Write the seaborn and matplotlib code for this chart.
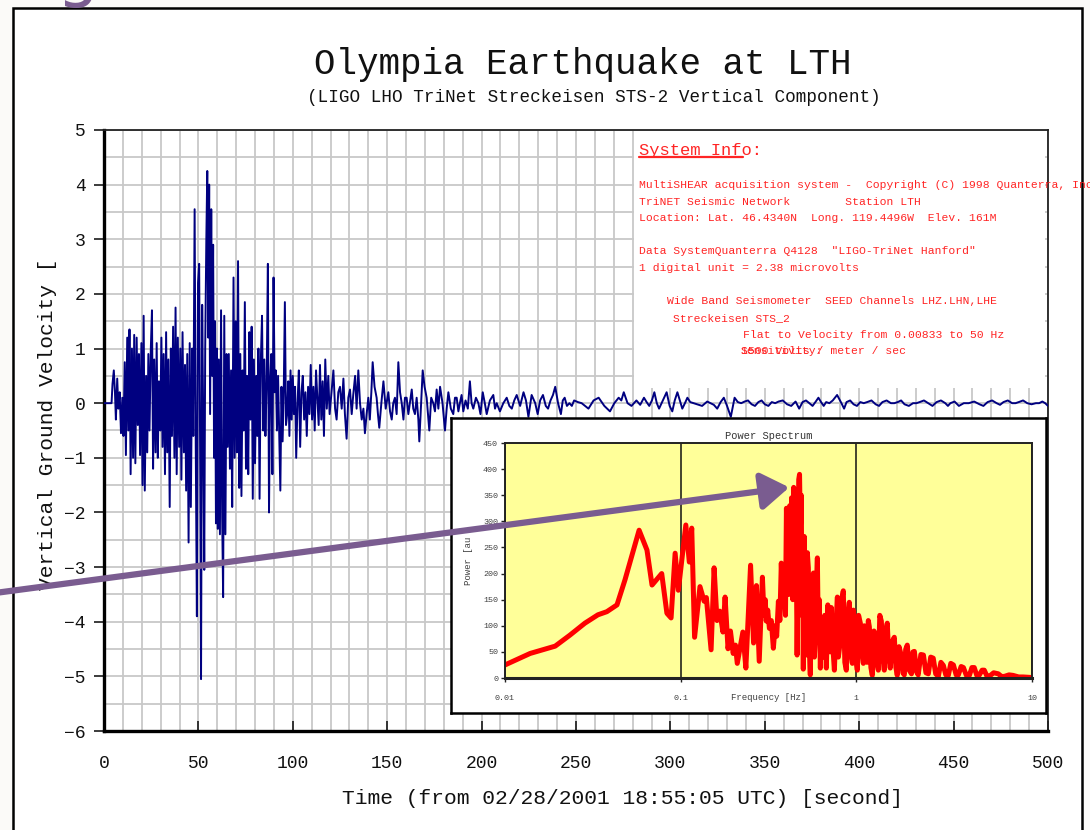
import numpy as np
import matplotlib.pyplot as plt
import matplotlib.patches as mpatches
from matplotlib.lines import Line2D
import seaborn as sns
import pandas as pd

# LTH vertical component [s], [velocity]
seis_t = [0, 4, 4.5, 5.2, 5.8, 6.3, 7, 7.6, 8.3, 9, 9.7, 10.3, 11, 11.6, 12.3, 12.9, 13.5, 14.1,
          14.8, 15.4, 16, 16.6, 17.3, 17.9, 18.5, 19.1, 19.8, 20.4, 21, 21.6, 22.3, 22.9, 23.5,
          24.1, 24.8, 25.4, 26, 26.6, 27.3, 27.9, 28.5, 29.1, 29.8, 30.4, 31, 31.6, 32.3, 32.9,
          33.5, 34.1, 34.8, 35.4, 36, 36.6, 37.3, 37.9, 38.5, 39.1, 39.8, 40.4, 41, 41.6, 42.3,
          42.9, 43.5, 44.1, 44.8, 45.4, 46, 46.7, 47.3, 48, 48.6, 49.2, 49.8, 50.4, 51, 51.4, 52,
          52.6, 53.1, 53.6, 54.2, 54.7, 55.2, 55.7, 56.2, 56.8, 57.3, 57.8, 58.3, 58.8, 59.3, 59.8,
          60.3, 60.8, 61.4, 62, 62.6, 63.1, 63.7, 64.3, 64.9, 65.5, 66.1, 66.7, 67.3, 67.9, 68.6,
          69.2, 69.8, 70.4, 71, 71.6, 72.2, 72.8, 73.4, 74, 74.6, 75.2, 75.8, 76.4, 77, 77.6, 78.2,
          78.8, 79.4, 80, 80.6, 81.2, 81.8, 82.4, 83, 83.7, 84.3, 84.9, 85.5, 86.1, 86.8, 87.4, 88,
          88.6, 89.2, 89.8, 90.4, 91, 91.6, 92.2, 92.8, 93.4, 94, 94.6, 95.2, 95.8, 96.4, 97, 97.6,
          98.2, 98.8, 99.4, 100, 100.6, 101.2, 101.8, 102.5, 103.2, 103.9, 104.6, 105.3, 106, 106.7,
          107.4, 108.1, 108.8, 109.5, 110.2, 110.9, 111.6, 112.3, 113, 113.7, 114.4, 115.1, 115.8,
          116.5, 117.2, 118, 118.8, 119.5, 121.5, 122.4, 123.2, 124.1, 125, 125.9, 126.8, 127.6,
          128.5, 129.4, 130.3, 131.2, 132, 133, 133.8, 134.7, 135.6, 136.5, 137.4, 138.2, 139.1,
          140, 140.8, 141.6, 142.3, 143.3, 144.4, 145.1, 145.8, 146.9, 148, 149.2, 150.6, 151.5,
          152.4, 153.2, 154.1, 155, 155.9, 156.8, 157.7, 158.6, 159.4, 160.3, 161.2, 162, 163,
          163.8, 164.7, 165.6, 166.5, 167, 168, 168.8, 169.8, 170.9, 171.6, 172.3, 173.3, 174.4,
          175.3, 176.2, 177.1, 178, 179.3, 180.6, 181.5, 182.4, 183.7, 185, 185.9, 186.8, 187.7,
          188.5, 189.4, 190.3, 191.5, 192.7, 193.8, 194.7, 195.6, 197, 198.3, 199.4, 200.6, 201.7,
          202.7, 204.4, 206.2, 207.1, 208, 209.7, 211.5, 213.3, 214.7, 216, 217.3, 218.6, 220.4,
          222.2, 223.5, 224.8, 226.5, 228.4, 229.7, 231, 232.5, 234, 235.2, 236.5, 237.8, 239,
          240.5, 242, 243, 244, 245.2, 246.5, 247.8, 249, 251, 253, 254.8, 256.6, 259.3, 262,
          265, 268, 270.3, 272.6, 274, 275.3, 277.3, 279.4, 280.7, 282, 284, 286, 287.4, 288.8,
          290.2, 291.5, 292.8, 294, 296, 298, 299.6, 301, 302.3, 303.7, 305, 306.3, 307.7, 309,
          310.5, 312.3, 314, 316.8, 319.5, 321.3, 323, 324.8, 326.6, 328.3, 330, 332, 334, 335.7,
          337.5, 339.3, 341.1, 343, 344.8, 346.6, 348.3, 350, 351.9, 353.7, 355.5, 357.3, 359.5,
          361.8, 364, 366.3, 368.2, 370, 371.8, 373.6, 375.3, 377, 378.4, 379.8, 381.2, 382.5,
          384.2, 386, 388.3, 390.6, 392, 393.3, 395.2, 397, 398.8, 400.6, 402.4, 404.2, 406.5,
          408.7, 410.5, 412.3, 414.5, 416.8, 418.6, 420.4, 422.2, 424, 426.3, 428.5, 430.3, 432,
          434.3, 436.6, 438.8, 441, 443.3, 445.6, 447, 448.3, 450.5, 452.8, 455.4, 458, 460.9,
          463.7, 465.8, 468, 470.4, 472.8, 474.6, 476.4, 478.7, 481, 482.8, 484.5, 486.8, 489,
          491.3, 493.6, 495.3, 497, 498.5, 500]
seis_v = [0, 0, 0.35, 0.6, 0.2, -0.3, 0.45, -0.1, 0.2, -0.55, 0.1, -0.6, 0.75, -0.95, 1.2, -0.5,
          1.35, -1.3, 1.0, -1.0, 1.25, -1.1, 1.2, -0.4, 0.9, -0.95, 1.1, -1.5, 1.6, -1.6, 0.5, -0.9,
          0.9, -0.5, 1.0, 1.7, -1.2, 0.8, -0.9, 1.1, -1.0, 0.4, -0.5, 1.2, -0.8, 0.9, -1.3, 1.3,
          -0.9, 0.8, -1.9, 1.0, -0.6, 1.4, -1.0, 1.75, -1.3, 1.2, -0.8, 1.0, -1.4, 1.3, -0.9, 0.7,
          -1.6, 0.9, -2.55, 1.1, -1.9, 1.0, -0.6, 3.55, -0.8, -3.9, 2.2, 2.55, -1.5, -5.05, 1.8,
          -0.5, -3.05, 1.0, 3.0, 4.25, 1.2, 4.0, -0.2, 3.55, 0.5, 2.9, -1.0, 1.5, -2.2, 1.0, -2.3,
          0.8, -2.4, 1.7, -2.1, -3.55, 1.6, -2.4, 0.9, -0.8, 0.9, -1.2, 0.6, -1.9, 2.3, -1.0, 1.5,
          -0.9, 2.6, -1.55, 0.9, -1.7, 0.6, -0.5, 1.85, -1.2, 0.5, -1.3, 1.3, -0.3, 1.4, -1.75,
          0.8, -1.1, 0.5, -0.6, 1.0, -1.75, 0.7, 1.6, -0.5, 0.8, -0.6, 0.3, 2.55, -2.0, 0.4, 0.9,
          -1.3, 2.3, 0.2, 0.6, -0.5, 0.5, -0.6, -1.6, 0.3, -0.7, 0.2, 1.85, -0.4, -0.2, 0.4, -0.6,
          0.6, -0.3, 0.5, -0.2, 0.3, -1.0, 0.0, 0.6, -0.8, 0.2, 0.5, -0.3, 0.2, -0.6, 0.3, -0.2,
          0.7, -0.3, 0.3, -0.5, 0.6, 0.1, -0.4, 0.7, -0.3, 0.4, -0.6, 0.8, -0.1, 0.5, -0.2, 0.6,
          -0.1, -0.3, 0.2, 0.3, -0.1, 0.45, -0.2, -0.65, 0.1, 0.25, -0.2, 0.15, 0.5, -0.1, 0.6, 0.0,
          -0.3, -0.1, -0.55, -0.2, 0.1, -0.3, 0.2, 0.75, 0.3, 0.1, -0.2, -0.45, 0.0, 0.4, -0.1, 0.2,
          -0.15, -0.3, 0.0, 0.1, -0.2, 0.75, 0.2, 0.0, -0.3, 0.1, 0.1, -0.2, 0.0, 0.25, -0.1, -0.2,
          0.1, -0.3, -0.7, 0.0, 0.6, 0.3, 0.1, -0.2, -0.5, 0.1, 0.0, -0.15, 0.25, -0.1, 0.3, 0.0,
          -0.5, -0.1, 0.2, -0.1, -0.2, 0.1, 0.1, -0.15, 0.0, 0.15, -0.15, 0.05, -0.1, 0.4, 0.0,
          -0.1, 0.1, 0.0, -0.2, 0.2, 0.0, -0.2, 0.05, 0.15, -0.1, 0.0, -0.15, 0.0, 0.1, -0.05,
          -0.1, 0.05, 0.15, -0.05, 0.2, 0.05, -0.25, 0.15, 0.0, -0.2, 0.05, 0.15, -0.05, -0.1,
          0.05, 0.15, 0.3, 0.0, -0.2, 0.05, 0.1, -0.05, 0.0, -0.05, 0.05, 0.02, 0.0, -0.05, -0.1,
          0.05, 0.1, -0.05, -0.15, 0.0, 0.1, 0.05, 0.2, 0.0, -0.05, 0.0, 0.05, -0.03, 0.1, 0.02,
          -0.05, 0.05, 0.2, 0.0, -0.1, 0.05, 0.2, -0.05, -0.15, 0.05, 0.2, 0.05, -0.1, 0.0, 0.1,
          0.02, 0.0, -0.02, -0.05, 0.03, 0.0, -0.03, -0.1, 0.02, 0.1, -0.05, -0.25, 0.1, 0.02, 0.0,
          0.03, 0.05, -0.02, -0.05, 0.02, 0.05, -0.02, -0.05, 0.02, 0.0, 0.03, 0.05, -0.02, -0.05,
          0.03, -0.1, 0.02, 0.05, 0.0, -0.05, 0.03, 0.1, 0.02, -0.05, 0.02, 0.0, 0.05, 0.15, 0.0,
          -0.1, 0.02, 0.05, -0.02, -0.05, 0.02, 0.0, 0.02, 0.05, -0.02, -0.05, 0.02, 0.05, 0.0,
          0.0, 0.02, 0.05, -0.02, -0.05, 0.0, 0.0, 0.02, 0.05, 0.0, -0.05, 0.02, 0.05, 0.0, -0.05,
          0.0, 0.03, -0.05, 0.0, 0.0, 0.03, -0.02, -0.05, 0.02, 0.05, 0.0, -0.03, 0.02, 0.05, 0.0,
          0.0, 0.02, 0.05, 0.0, -0.02, 0.0, 0.0, 0.03, 0.0, -0.05]

# power spectrum of the same record
freq_hz = [0.01, 0.0139, 0.0193, 0.0234, 0.0285, 0.0338, 0.038, 0.0434, 0.0482, 0.058, 0.0643,
           0.0687, 0.078, 0.0835, 0.0882, 0.093, 0.097, 0.107, 0.112, 0.1156, 0.12, 0.1288, 0.136,
           0.14, 0.149, 0.155, 0.161, 0.167, 0.174, 0.179, 0.186, 0.192, 0.199, 0.205, 0.21, 0.226,
           0.235, 0.25, 0.26, 0.27, 0.28,
           0.292, 0.298, 0.303, 0.307, 0.313, 0.32, 0.328, 0.337, 0.345, 0.352, 0.36, 0.367,
           0.374, 0.381, 0.389, 0.395, 0.40, 0.405, 0.41, 0.413, 0.418, 0.423, 0.428, 0.435,
           0.44, 0.447, 0.452, 0.46, 0.466, 0.47, 0.475, 0.48, 0.486, 0.49, 0.495, 0.499, 0.505,
           0.512, 0.519, 0.526, 0.533, 0.54, 0.547, 0.553, 0.56, 0.57, 0.577, 0.584, 0.59, 0.60,
           0.607, 0.615, 0.624, 0.632, 0.641, 0.65, 0.66, 0.675, 0.688, 0.702, 0.71, 0.72, 0.735,
           0.75, 0.765, 0.78, 0.79, 0.81, 0.825, 0.843, 0.86, 0.877, 0.895, 0.912, 0.93, 0.949,
           0.962, 0.974, 0.99, 1.013, 1.03, 1.054, 1.075, 1.096, 1.11, 1.125, 1.15, 1.17, 1.186,
           1.21, 1.233, 1.26, 1.283, 1.31, 1.334, 1.36, 1.388, 1.415, 1.443, 1.47, 1.5, 1.53,
           1.56, 1.6, 1.645, 1.68, 1.71, 1.75, 1.8, 1.84, 1.875, 1.91, 1.95, 2.0, 2.06, 2.1, 2.14,
           2.2, 2.25, 2.33, 2.41, 2.49, 2.57, 2.65, 2.74, 2.83, 2.93, 3.03, 3.13, 3.23, 3.34,
           3.45, 3.57, 3.7, 3.81, 3.95, 4.07, 4.23, 4.4, 4.55, 4.69, 4.85, 5.0, 5.2, 5.35, 5.55,
           5.7, 6.05, 6.43, 6.7, 6.95, 7.4, 7.8, 8.4, 8.9, 9.9]
power_au = [25, 47, 61, 82, 105, 121, 127, 140, 188, 283, 245, 178, 200, 124, 115, 239, 168, 293,
            222, 287, 78, 175, 147, 154, 54, 211, 110, 128, 88, 155, 56, 90, 47, 63, 28, 88, 19,
            216, 67, 177, 32,
            193, 120, 150, 109, 130, 95, 110, 57, 100, 80, 147, 110, 220, 140, 167, 120, 325,
            200, 310, 160, 330, 230, 345, 150, 365, 250, 360, 44, 200, 380, 390, 280, 350, 120,
            270, 17, 271, 150, 44, 240, 211, 60, 6, 180, 100, 201, 40, 78, 160, 230, 90, 150, 19,
            110, 83, 40, 120, 19, 140, 89, 50, 135, 60, 15, 100, 155, 40, 70, 150, 167, 30, 15,
            120, 145, 50, 28, 130, 105, 40, 15, 120, 105, 50, 28, 100, 85, 30, 110, 98, 20, 5, 90,
            85, 30, 15, 120, 109, 40, 15, 90, 105, 40, 19, 70, 78, 20, 5, 60, 44, 10, 6, 55, 63,
            15, 8, 50, 51, 12, 6, 45, 44, 10, 8, 40, 38, 8, 3, 30, 24, 6, 5, 28, 25, 6, 6, 22, 20,
            5, 5, 20, 20, 5, 5, 15, 15, 3, 3, 10, 8, 3, 3, 6, 5, 2, 2, 1]

x_ticks = list(range(0, 501, 50))
y_ticks = list(range(-6, 6))
psd_yticks = list(range(0, 451, 50))
psd_xticks = [0.01, 0.1, 1, 10]
psd_xlabels = ['0.01', '0.1', '1', '10']

W, H = 1090, 830


def fx(px):
    return px / W


def fy(py):
    return 1 - py / H


sns.set_theme(style='whitegrid')
plt.rcParams['font.family'] = ['Liberation Mono', 'DejaVu Sans']

fig = plt.figure(figsize=(10.9, 8.3), dpi=100, facecolor='#fbfaf8')

# slide frame
frame = mpatches.Rectangle((fx(13), -0.05), fx(1082) - fx(13), fy(8) + 0.05,
                           transform=fig.transFigure, facecolor='white', edgecolor='black',
                           lw=1.8, zorder=-5)
fig.add_artist(frame)
fig.text(fx(56), fy(-6), 'g', color='#7a5c90', fontsize=48, family='DejaVu Sans',
         va='baseline', ha='left')

# main seismogram
ax = fig.add_axes([fx(104), fy(731), fx(1048) - fx(104), (731 - 130) / H])
ax.set_facecolor('white')
df = pd.DataFrame({'t': seis_t, 'v': seis_v})
sns.lineplot(data=df, x='t', y='v', ax=ax, color='#000080', lw=1.4,
             estimator=None, sort=False, zorder=3)
ax.set_xlim(0, 500)
ax.set_ylim(-6, 5)
ax.set_xticks(x_ticks)
ax.set_yticks(y_ticks)
ax.set_xticks(np.arange(0, 501, 10), minor=True)
ax.set_yticks(np.arange(-6, 5.01, 0.5), minor=True)
ax.grid(True, which='both', color='#c8c8c8', lw=1.3)
ax.set_axisbelow(True)
ax.tick_params(axis='x', which='major', direction='in', length=7, width=1.2, color='k',
               labelsize=13, pad=17, labelcolor='#111111', bottom=True)
ax.tick_params(axis='y', which='major', direction='out', length=7, width=1.2, color='k',
               labelsize=13, pad=6, labelcolor='#111111', left=True)
ax.tick_params(which='minor', length=0)
for s in ['left', 'bottom']:
    ax.spines[s].set_linewidth(2.4)
    ax.spines[s].set_color('black')
for s in ['top', 'right']:
    ax.spines[s].set_linewidth(1.3)
    ax.spines[s].set_color('#222222')
ax.set_xlabel('Time (from 02/28/2001 18:55:05 UTC) [second]', fontsize=15.3, color='#111111')
ax.set_ylabel('Vertical Ground Velocity [', fontsize=15.3, color='#111111')
ax.xaxis.set_label_coords(0.549, -0.097)
ax.yaxis.set_label_coords(-0.05, 0.51)

fig.text(fx(583), fy(64), 'Olympia Earthquake at LTH', fontsize=25.8, ha='center', va='center',
         color='#111111')
fig.text(fx(594), fy(97), '(LIGO LHO TriNet Streckeisen STS-2 Vertical Component)',
         fontsize=12.7, ha='center', va='center', color='#111111')

# system info box
info_box = mpatches.Rectangle((fx(634), fy(388)), fx(1045) - fx(634), (388 - 131) / H,
                              transform=fig.transFigure, facecolor='white', edgecolor='none',
                              zorder=1)
ax.add_artist(info_box)
info_box.set_clip_on(False)

red = '#ff2424'
fig.text(fx(639), fy(151), 'System Info:', fontsize=12.3, color=red, va='center')
fig.add_artist(Line2D([fx(639), fx(743)], [fy(157.5), fy(157.5)], color=red, lw=1.6))
info_lines = [
    (639, 185, 'MultiSHEAR acquisition system -  Copyright (C) 1998 Quanterra, Inc.'),
    (639, 202, 'TriNET Seismic Network        Station LTH'),
    (639, 218, 'Location: Lat. 46.4340N  Long. 119.4496W  Elev. 161M'),
    (639, 251, 'Data SystemQuanterra Q4128  "LIGO-TriNet Hanford"'),
    (639, 268, '1 digital unit = 2.38 microvolts'),
    (667, 301, 'Wide Band Seismometer  SEED Channels LHZ.LHN,LHE'),
    (673, 318, 'Streckeisen STS_2'),
    (743, 335, 'Flat to Velocity from 0.00833 to 50 Hz'),
    (741, 351, '1500 Volts / meter / sec'),
    (741, 351, 'Sensitivity:'),
]
for x0, y0, s in info_lines:
    fig.text(fx(x0), fy(y0), s, fontsize=8.2, color=red, va='center')

# inset: power spectrum
box = fig.add_axes([fx(451), fy(713), fx(1046) - fx(451), (713 - 418) / H])
box.set_facecolor('white')
box.set_xticks([])
box.set_yticks([])
box.grid(False)
for s in box.spines.values():
    s.set_color('black')
    s.set_linewidth(1.8)

ins = fig.add_axes([fx(505), fy(678), fx(1032) - fx(505), (678 - 443) / H])
ins.set_facecolor('#ffff99')
psd = pd.DataFrame({'f': freq_hz, 'p': power_au})
sns.lineplot(data=psd, x='f', y='p', ax=ins, color='#ff0000', lw=3.6,
             estimator=None, sort=False)
ins.set_xscale('log')
ins.set_xlim(0.01, 10)
ins.set_ylim(0, 450)
ins.set_xticks(psd_xticks)
ins.set_xticklabels(psd_xlabels)
ins.set_yticks(psd_yticks)
ins.minorticks_off()
ins.grid(False)
ins.grid(True, axis='x', color='#111111', lw=1.1)
ins.tick_params(axis='both', labelsize=6, labelcolor='#404040', color='#222222',
                length=3, width=1, direction='out')
ins.tick_params(axis='x', pad=9, bottom=True)
ins.tick_params(axis='y', pad=2, left=True)
for s in ins.spines.values():
    s.set_color('#222222')
    s.set_linewidth(1.4)
ins.spines['bottom'].set_linewidth(2.2)
ins.set_title('Power Spectrum', fontsize=7.5, color='#333333', pad=3)
ins.set_xlabel('Frequency [Hz]', fontsize=6.5, color='#404040')
ins.set_ylabel('Power [au', fontsize=6.5, color='#404040')
ins.xaxis.set_label_coords(0.5, -0.065)
ins.yaxis.set_label_coords(-0.06, 0.5)

# purple pointer from the slide onto the spectral peak
arrow = mpatches.FancyArrowPatch((fx(-5), fy(593)), (fx(792), fy(487)),
                                 transform=fig.transFigure,
                                 arrowstyle='-|>,head_length=0.6,head_width=0.4',
                                 mutation_scale=28, color='#7a5c90', lw=4.5, zorder=10)
fig.add_artist(arrow)

fig.savefig('out.png', dpi=100, facecolor=fig.get_facecolor())
